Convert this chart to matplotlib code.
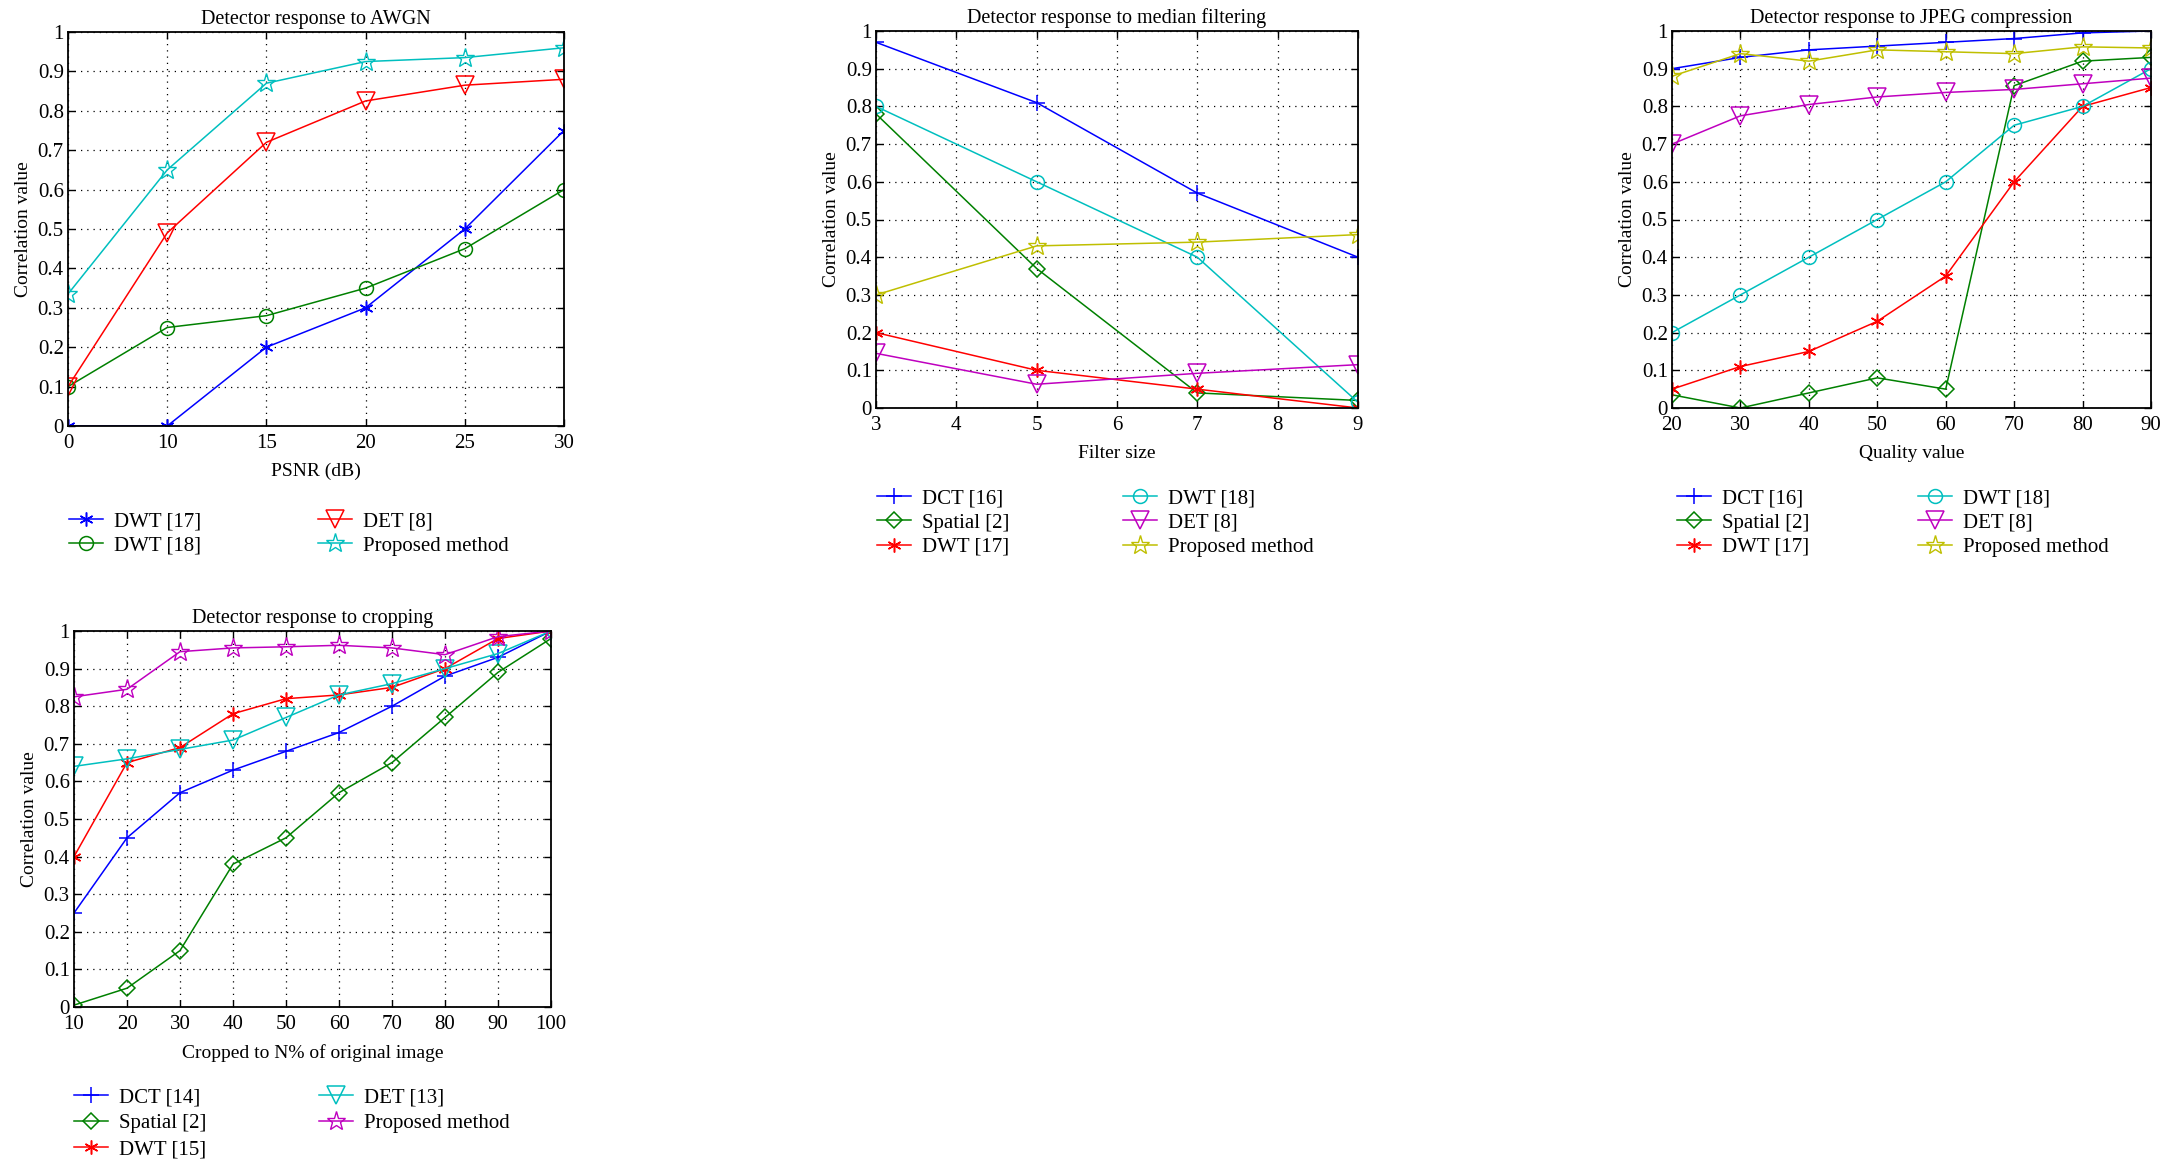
import numpy as np
import matplotlib
matplotlib.use("Agg")
import matplotlib.pyplot as plt

plt.rcParams["font.family"] = ["Liberation Serif", "DejaVu Serif"]

# ---------------- data ----------------
# AWGN (x axis is categorical: equally spaced labels)
awgn_x = ["0", "10", "15", "20", "25", "30"]
awgn_dwt17 = [0.0, 0.0, 0.2, 0.3, 0.5, 0.75]
awgn_dwt18 = [0.1, 0.25, 0.28, 0.35, 0.45, 0.6]
awgn_det8 = [0.1, 0.49, 0.72, 0.825, 0.865, 0.88]
awgn_prop = [0.335, 0.65, 0.87, 0.925, 0.935, 0.96]

# median filtering
med_x = [3, 5, 7, 9]
med_dct16 = [0.97, 0.81, 0.57, 0.40]
med_spatial2 = [0.78, 0.37, 0.04, 0.02]
med_dwt17 = [0.2, 0.1, 0.05, 0.0]
med_dwt18 = [0.80, 0.60, 0.40, 0.015]
med_det8 = [0.145, 0.063, 0.092, 0.115]
med_prop = [0.30, 0.43, 0.44, 0.46]

# JPEG compression
jpg_x = [20, 30, 40, 50, 60, 70, 80, 90]
jpg_dct16 = [0.90, 0.93, 0.95, 0.96, 0.97, 0.98, 0.995, 1.0]
jpg_spatial2 = [0.035, 0.0, 0.04, 0.08, 0.05, 0.855, 0.92, 0.93]
jpg_dwt17 = [0.05, 0.11, 0.15, 0.23, 0.35, 0.60, 0.80, 0.85]
jpg_dwt18 = [0.20, 0.30, 0.40, 0.50, 0.60, 0.75, 0.80, 0.90]
jpg_det8 = [0.70, 0.775, 0.805, 0.825, 0.837, 0.845, 0.86, 0.875]
jpg_prop = [0.88, 0.94, 0.92, 0.95, 0.945, 0.94, 0.958, 0.955]

# cropping
crop_x = [10, 20, 30, 40, 50, 60, 70, 80, 90, 100]
crop_dct14 = [0.25, 0.45, 0.57, 0.63, 0.68, 0.73, 0.80, 0.88, 0.93, 1.0]
crop_spatial2 = [0.005, 0.05, 0.15, 0.38, 0.45, 0.57, 0.65, 0.77, 0.89, 0.98]
crop_dwt15 = [0.40, 0.65, 0.69, 0.78, 0.82, 0.83, 0.85, 0.90, 0.98, 1.0]
crop_det13 = [0.64, 0.66, 0.685, 0.71, 0.77, 0.83, 0.86, 0.90, 0.94, 1.0]
crop_prop = [0.825, 0.845, 0.945, 0.955, 0.958, 0.962, 0.955, 0.937, 0.985, 1.0]

y_ticks = np.arange(0, 1.01, 0.1)
y_labels = ["0"] + [f"{v:.1f}" for v in y_ticks[1:-1]] + ["1"]

# MATLAB-ish colours
BLUE, GREEN, RED = "#0000ff", "#008000", "#ff0000"
CYAN, MAGENTA, YELLOW = "#00bfbf", "#bf00bf", "#bfbf00"

LW = 1.1
STY = {
    "aster": dict(marker=(6, 2, 0), markersize=10, markeredgewidth=1.1),
    "plus": dict(marker="+", markersize=12, markeredgewidth=1.1),
    "circle": dict(marker="o", markersize=10, markerfacecolor="none", markeredgewidth=1.1),
    "tri": dict(marker="v", markersize=13, markerfacecolor="none", markeredgewidth=1.1),
    "diam": dict(marker="D", markersize=8.5, markerfacecolor="none", markeredgewidth=1.1),
    "star": dict(marker="*", markersize=14, markerfacecolor="none", markeredgewidth=1.0),
}

TICK_FS = 15
TITLE_FS = 14.5
LAB_FS = 14
LEG_FS = 15

W, H = 2173, 1160
fig = plt.figure(figsize=(W / 100, H / 100), dpi=100)


def px_axes(l, t, r, b):
    return fig.add_axes([l / W, 1 - b / H, (r - l) / W, (b - t) / H])


def style_axes(ax, title, xlabel):
    ax.set_ylim(0, 1)
    ax.set_yticks(y_ticks)
    ax.set_yticklabels(y_labels)
    ax.grid(True, color="black", linestyle=(0, (1, 4)), linewidth=0.9)
    ax.tick_params(direction="in", top=True, right=True, labelsize=TICK_FS,
                   length=5, width=1, pad=3)
    ax.tick_params(axis="x", pad=6)
    for s in ax.spines.values():
        s.set_linewidth(1.3)
    ax.set_title(title, fontsize=TITLE_FS, pad=6)
    ax.set_xlabel(xlabel, fontsize=LAB_FS, labelpad=7)
    ax.set_ylabel("Correlation value", fontsize=LAB_FS, labelpad=4)


def add_legend(handles, x_px, y_px, spacing=0.22):
    return fig.legend(handles=handles, loc="upper left",
                      bbox_to_anchor=(x_px / W, 1 - y_px / H),
                      frameon=False, fontsize=LEG_FS, borderpad=0,
                      borderaxespad=0, handlelength=1.65, handletextpad=0.5,
                      labelspacing=spacing)


# ---------- AWGN ----------
ax1 = px_axes(68, 32, 564, 426)
xi = np.arange(len(awgn_x))
h11, = ax1.plot(xi, awgn_dwt17, color=BLUE, lw=LW, label="DWT [17]", **STY["aster"])
h12, = ax1.plot(xi, awgn_dwt18, color=GREEN, lw=LW, label="DWT [18]", **STY["circle"])
h13, = ax1.plot(xi, awgn_det8, color=RED, lw=LW, label="DET [8]", **STY["tri"])
h14, = ax1.plot(xi, awgn_prop, color=CYAN, lw=LW, label="Proposed method", **STY["star"])
ax1.set_xlim(0, len(awgn_x) - 1)
ax1.set_xticks(xi)
ax1.set_xticklabels(awgn_x)
style_axes(ax1, "Detector response to AWGN", "PSNR (dB)")
add_legend([h11, h12], 69, 512)
add_legend([h13, h14], 318, 512)

# ---------- median filtering ----------
ax2 = px_axes(876, 31, 1358, 408)
h21, = ax2.plot(med_x, med_dct16, color=BLUE, lw=LW, label="DCT [16]", **STY["plus"])
h22, = ax2.plot(med_x, med_spatial2, color=GREEN, lw=LW, label="Spatial [2]", **STY["diam"])
h23, = ax2.plot(med_x, med_dwt17, color=RED, lw=LW, label="DWT [17]", **STY["aster"])
h24, = ax2.plot(med_x, med_dwt18, color=CYAN, lw=LW, label="DWT [18]", **STY["circle"])
h25, = ax2.plot(med_x, med_det8, color=MAGENTA, lw=LW, label="DET [8]", **STY["tri"])
h26, = ax2.plot(med_x, med_prop, color=YELLOW, lw=LW, label="Proposed method", **STY["star"])
ax2.set_xlim(3, 9)
ax2.set_xticks(range(3, 10))
style_axes(ax2, "Detector response to median filtering", "Filter size")
add_legend([h21, h22, h23], 877, 489)
add_legend([h24, h25, h26], 1123, 489)

# ---------- JPEG ----------
ax3 = px_axes(1672, 31, 2151, 408)
h31, = ax3.plot(jpg_x, jpg_dct16, color=BLUE, lw=LW, label="DCT [16]", **STY["plus"])
h32, = ax3.plot(jpg_x, jpg_spatial2, color=GREEN, lw=LW, label="Spatial [2]", **STY["diam"])
h33, = ax3.plot(jpg_x, jpg_dwt17, color=RED, lw=LW, label="DWT [17]", **STY["aster"])
h34, = ax3.plot(jpg_x, jpg_dwt18, color=CYAN, lw=LW, label="DWT [18]", **STY["circle"])
h35, = ax3.plot(jpg_x, jpg_det8, color=MAGENTA, lw=LW, label="DET [8]", **STY["tri"])
h36, = ax3.plot(jpg_x, jpg_prop, color=YELLOW, lw=LW, label="Proposed method", **STY["star"])
ax3.set_xlim(20, 90)
ax3.set_xticks(jpg_x)
style_axes(ax3, "Detector response to JPEG compression", "Quality value")
add_legend([h31, h32, h33], 1677, 489)
add_legend([h34, h35, h36], 1918, 489)

# ---------- cropping ----------
ax4 = px_axes(74, 631, 551, 1007)
h41, = ax4.plot(crop_x, crop_dct14, color=BLUE, lw=LW, label="DCT [14]", **STY["plus"])
h42, = ax4.plot(crop_x, crop_spatial2, color=GREEN, lw=LW, label="Spatial [2]", **STY["diam"])
h43, = ax4.plot(crop_x, crop_dwt15, color=RED, lw=LW, label="DWT [15]", **STY["aster"])
h44, = ax4.plot(crop_x, crop_det13, color=CYAN, lw=LW, label="DET [13]", **STY["tri"])
h45, = ax4.plot(crop_x, crop_prop, color=MAGENTA, lw=LW, label="Proposed method", **STY["star"])
ax4.set_xlim(10, 100)
ax4.set_xticks(crop_x)
style_axes(ax4, "Detector response to cropping", "Cropped to N% of original image")
add_legend([h41, h42, h43], 74, 1088, spacing=0.3)
add_legend([h44, h45], 319, 1088, spacing=0.3)

fig.savefig("out.png", dpi=100)
